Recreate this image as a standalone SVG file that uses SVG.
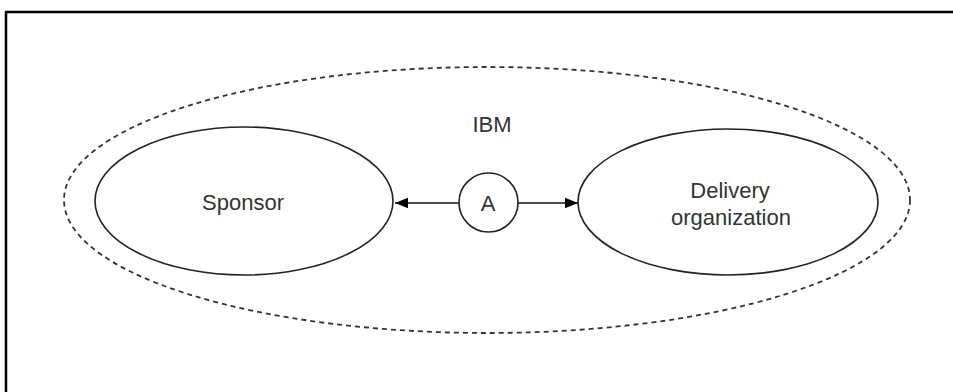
<svg xmlns="http://www.w3.org/2000/svg" width="953" height="392" viewBox="0 0 953 392">
<style>
.frame{fill:none;stroke:#000;stroke-width:2.5}
.boundary{fill:none;stroke:#333;stroke-width:1.8;stroke-dasharray:5 4}
.node{fill:#fff;stroke:#222;stroke-width:1.6}
.lbl{font-family:"Liberation Sans",Arial,sans-serif;font-size:22px;fill:#333;text-anchor:middle}
.conn{stroke:#111;stroke-width:1.4;fill:none}
</style>
<defs>
<marker id="ah" viewBox="0 0 10 10" refX="10" refY="5" markerWidth="25" markerHeight="13" markerUnits="userSpaceOnUse" orient="auto">
<path d="M0,1 L10,5 L0,9 Z" fill="#000"/>
</marker>
</defs>
<rect width="953" height="392" fill="#fff"/>
<path class="frame" d="M6,392 V12 H953"/>
<g id="ibm">
<ellipse class="boundary" cx="487" cy="200" rx="423" ry="133"/>
<text class="lbl" x="492" y="132">IBM</text>
</g>
<g id="connectors">
<line class="conn" x1="459" y1="203" x2="395" y2="203" marker-end="url(#ah)"/>
<line class="conn" x1="518" y1="203" x2="578" y2="203" marker-end="url(#ah)"/>
</g>
<g id="sponsor">
<ellipse class="node" cx="244" cy="201" rx="149" ry="74"/>
<text class="lbl" x="243" y="210">Sponsor</text>
</g>
<g id="delivery">
<ellipse class="node" cx="728" cy="202" rx="150" ry="73"/>
<text class="lbl" x="730" y="198">Delivery</text>
<text class="lbl" x="731" y="225">organization</text>
</g>
<g id="a">
<circle class="node" cx="488.5" cy="202.5" r="29.5"/>
<text class="lbl" x="488" y="211">A</text>
</g>
</svg>
